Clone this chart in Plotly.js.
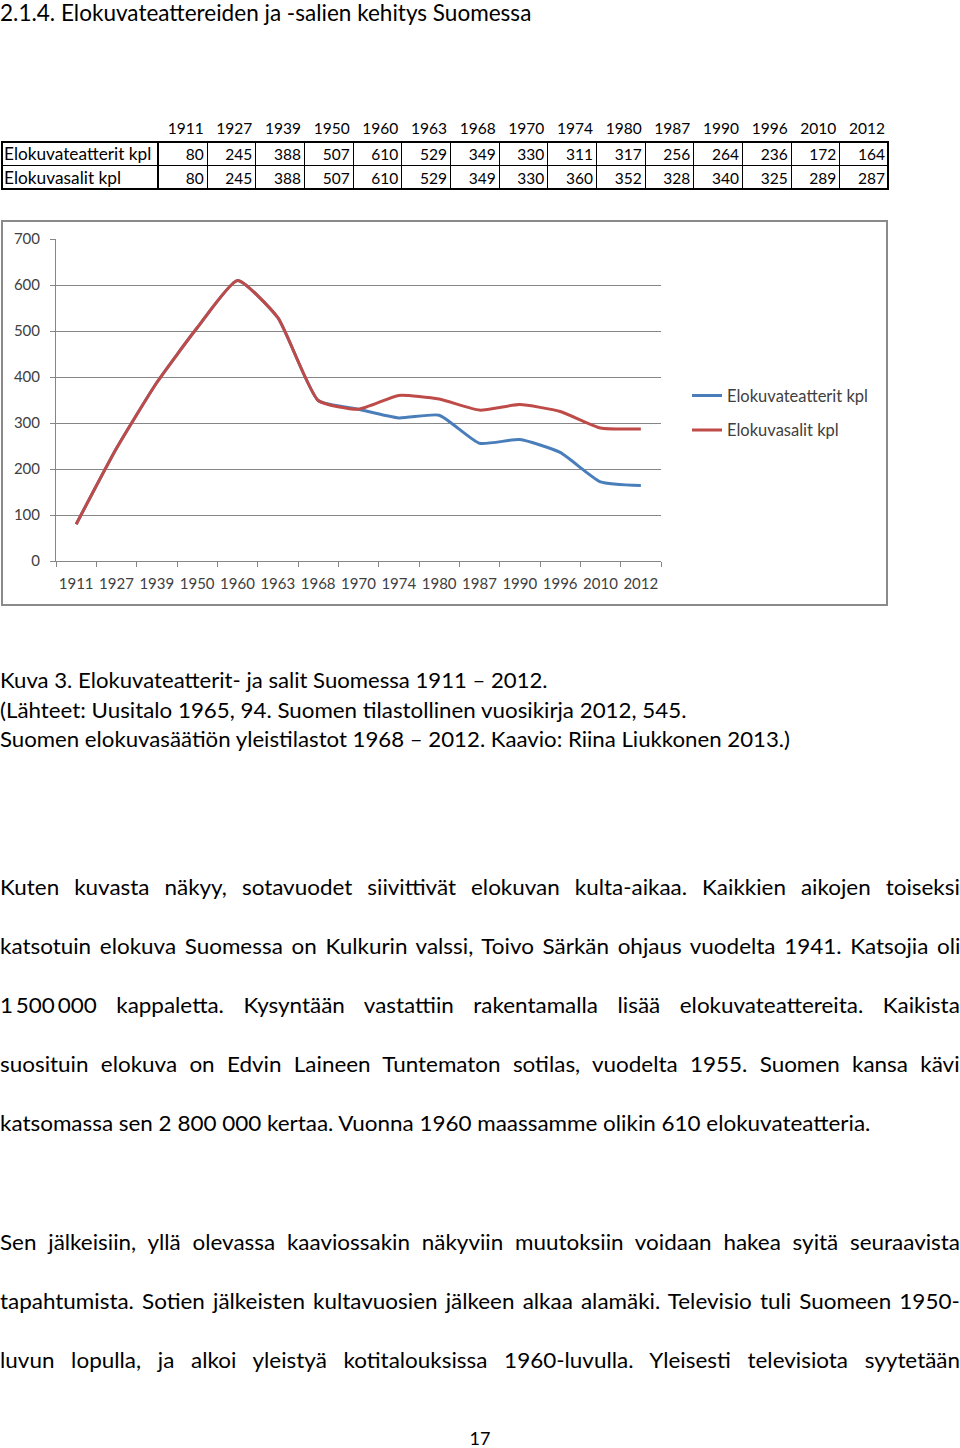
<!DOCTYPE html>
<html><head><meta charset="utf-8">
<script src="https://cdn.plot.ly/plotly-3.0.1.min.js"></script>
<style>
html,body{margin:0;padding:0;background:#fff}
body{width:960px;height:1448px;position:relative;overflow:hidden;font-family:Lato,"Open Sans",sans-serif;color:#000}
.ln{position:absolute;left:0;white-space:nowrap;line-height:1;transform-origin:0 0}
.cell{position:absolute;box-sizing:border-box;font-size:15.5px;line-height:24px;white-space:nowrap;overflow:visible}
.fitspan{display:inline-block;transform-origin:0 50%;white-space:nowrap}
#chart{position:absolute;left:1px;top:220px;width:887px;height:386px;box-sizing:border-box;border:2px solid #8a8a8a}
</style></head><body>
<div id="text"></div>
<div id="table"></div>
<div id="chart"><div id="plot"></div></div>
<script>
// ---- data ----
var years = ["1911","1927","1939","1950","1960","1963","1968","1970","1974","1980","1987","1990","1996","2010","2012"];
var rowLabels = ["Elokuvateatterit kpl","Elokuvasalit kpl"];
var theatres = [80,245,388,507,610,529,349,330,311,317,256,264,236,172,164];
var halls = [80,245,388,507,610,529,349,330,360,352,328,340,325,289,287];
var yTicks = [0,100,200,300,400,500,600,700];

// ---- text lines ----
var lines = [
 {t:"2.1.4. Elokuvateattereiden ja -salien kehitys Suomessa", b:21, f:23, mode:"fit", w:531, g:"title"},
 {t:"Kuva 3. Elokuvateatterit- ja salit Suomessa 1911 \u2013 2012.", b:688, f:21, mode:"fit", w:548, g:"c1"},
 {t:"(L\u00e4hteet: Uusitalo 1965, 94. Suomen tilastollinen vuosikirja 2012, 545.", b:717.5, f:21, mode:"fit", w:686, g:"c2"},
 {t:"Suomen elokuvas\u00e4\u00e4ti\u00f6n yleistilastot 1968 \u2013 2012. Kaavio: Riina Liukkonen 2013.)", b:747, f:21, mode:"fit", w:790, g:"c3"},
 {t:"Kuten kuvasta n\u00e4kyy, sotavuodet siivittiv\u00e4t elokuvan kulta-aikaa. Kaikkien aikojen toiseksi", b:895, f:20.5, mode:"just", w:960, g:"body"},
 {t:"katsotuin elokuva Suomessa on Kulkurin valssi, Toivo S\u00e4rk\u00e4n ohjaus vuodelta 1941. Katsojia oli", b:954, f:20.5, mode:"just", w:960, g:"body"},
 {t:"1\u2009500\u2009000 kappaletta. Kysynt\u00e4\u00e4n vastattiin rakentamalla lis\u00e4\u00e4 elokuvateattereita. Kaikista", b:1013, f:20.5, mode:"just", w:960, g:"body"},
 {t:"suosituin elokuva on Edvin Laineen Tuntematon sotilas, vuodelta 1955. Suomen kansa k\u00e4vi", b:1072, f:20.5, mode:"just", w:960, g:"body"},
 {t:"katsomassa sen 2 800 000 kertaa. Vuonna 1960 maassamme olikin 610 elokuvateatteria.", b:1131, f:20.5, mode:"fit", w:870, g:"body"},
 {t:"Sen j\u00e4lkeisiin, yll\u00e4 olevassa kaaviossakin n\u00e4kyviin muutoksiin voidaan hakea syit\u00e4 seuraavista", b:1250, f:20.5, mode:"just", w:960, g:"body"},
 {t:"tapahtumista. Sotien j\u00e4lkeisten kultavuosien j\u00e4lkeen alkaa alam\u00e4ki. Televisio tuli Suomeen 1950-", b:1309, f:20.5, mode:"just", w:960, g:"body"},
 {t:"luvun lopulla, ja alkoi yleisty\u00e4 kotitalouksissa 1960-luvulla. Yleisesti televisiota syytet\u00e4\u00e4n", b:1368, f:20.5, mode:"just", w:960, g:"body"}
];

var textDiv = document.getElementById('text');
var els = lines.map(function(L){
  var d = document.createElement('div');
  d.className = 'ln';
  d.style.fontSize = L.f + 'px';
  d.style.top = (L.b - 0.887*L.f) + 'px';
  d.textContent = L.t;
  textDiv.appendChild(d);
  return d;
});
// page number
var pn = document.createElement('div');
pn.className = 'ln'; pn.style.fontSize = '18px'; pn.style.top = (1445 - 0.887*18) + 'px';
pn.style.left = '0px'; pn.style.width = '960px'; pn.style.textAlign = 'center'; pn.textContent = '17';
textDiv.appendChild(pn);

var fitSpans = [];
function layoutText(){
  els.forEach(function(el){ el.style.wordSpacing = '0px'; el.style.transform = 'none'; });
  var groupScale = {};
  lines.forEach(function(L,i){
    if (L.mode === 'fit') {
      var w = els[i].offsetWidth;
      (groupScale[L.g] = groupScale[L.g] || []).push(L.w / w);
    }
  });
  lines.forEach(function(L,i){
    var arr = groupScale[L.g] || [1];
    var s = arr.reduce(function(a,b){return a+b;},0)/arr.length;
    var el = els[i];
    var nat = el.offsetWidth;
    if (L.mode === 'fit') {
      s = L.w / nat;
    } else {
      var n = (L.t.match(/ /g) || []).length;
      var target = L.w / s;
      el.style.wordSpacing = ((target - nat) / n) + 'px';
    }
    el.style.transform = 'scaleX(' + s + ')';
  });
  fitSpans.forEach(function(o){
    o.el.style.transform = 'none';
    var w = o.el.offsetWidth;
    o.el.style.transform = 'scaleX(' + (o.w / w) + ')';
  });
}

// ---- table ----
var tbl = document.getElementById('table');
var x0 = 158, xEnd = 888, colW = (xEnd - x0) / years.length;
var rowTop = 141, rowH = 24;
function addCell(left, top, w, h, txt, align, borders, fitW){
  var c = document.createElement('div');
  c.className = 'cell';
  c.style.left = left + 'px'; c.style.top = top + 'px';
  c.style.width = w + 'px'; c.style.height = h + 'px';
  c.style.textAlign = align;
  c.style.padding = align === 'right' ? '0 3px 0 0' : '0 0 0 2px';
  if (borders) c.style.border = '1px solid #000';
  if (fitW) {
    var sp = document.createElement('span');
    sp.className = 'fitspan';
    sp.style.fontSize = '17px';
    sp.textContent = txt;
    c.appendChild(sp);
    fitSpans.push({el: sp, w: fitW});
  } else {
    c.textContent = txt;
  }
  tbl.appendChild(c);
}
years.forEach(function(y,k){
  addCell(x0 + k*colW, rowTop - 25, colW, 24, y, 'right', false);
});
var rows = [theatres, halls];
var labelWidths = [147, 117];
rows.forEach(function(vals, r){
  addCell(1, rowTop + r*rowH, x0, rowH + 1, rowLabels[r], 'left', true, labelWidths[r]);
  vals.forEach(function(v,k){
    addCell(x0 + k*colW, rowTop + r*rowH, colW + 1, rowH + 1, String(v), 'right', true);
  });
});
var outer = document.createElement('div');
outer.style.cssText = 'position:absolute;box-sizing:border-box;border:2px solid #000;left:1px;top:' + rowTop + 'px;width:' + xEnd + 'px;height:' + (2*rowH + 1) + 'px';
tbl.appendChild(outer);
var outer2 = document.createElement('div');
outer2.style.cssText = 'position:absolute;box-sizing:border-box;border-left:2px solid #000;left:' + (x0-1) + 'px;top:' + rowTop + 'px;width:2px;height:' + (2*rowH + 1) + 'px';
tbl.appendChild(outer2);

// ---- chart ----
var gray = '#868686';
var traces = [
  {x: years, y: theatres, name: rowLabels[0], type: 'scatter', mode: 'lines',
   line: {color: '#4a7ebb', width: 3, shape: 'spline', smoothing: 0.5}, legendgroup: 'a'},
  {x: years, y: halls, name: rowLabels[1], type: 'scatter', mode: 'lines',
   line: {color: '#be4b48', width: 3, shape: 'spline', smoothing: 0.5}, legendgroup: 'b'}
];
var layout = {
  width: 883, height: 382,
  margin: {l: 53, r: 225, t: 17, b: 43},
  paper_bgcolor: '#fff', plot_bgcolor: '#fff',
  font: {family: 'Lato, "Open Sans", sans-serif', size: 15, color: '#404040'},
  showlegend: true,
  legend: {x: 1.043, xanchor: 'left', y: 0.46, yanchor: 'middle', tracegroupgap: 10,
           font: {size: 16.5, color: '#404040'}, bgcolor: 'rgba(0,0,0,0)'},
  xaxis: {type: 'category', categoryarray: years, range: [-0.5, years.length - 0.5],
          tickson: 'boundaries', ticks: 'outside',
          ticklen: 5, tickcolor: gray, showline: true, linecolor: gray, linewidth: 1,
          showgrid: false, zeroline: false, tickangle: 0, fixedrange: true, ticklabelstandoff: 9,
          tickfont: {size: 15, color: '#404040'}},
  yaxis: {range: [0, 700], tickvals: yTicks, showgrid: true, gridcolor: gray, gridwidth: 1,
          showline: true, linecolor: gray, linewidth: 1, ticks: 'outside', ticklen: 5,
          tickcolor: gray, zeroline: false, ticklabelstandoff: 7, fixedrange: true,
          tickfont: {size: 15, color: '#404040'}}
};
Plotly.newPlot('plot', traces, layout, {staticPlot: true, displayModeBar: false});

layoutText();
if (document.fonts && document.fonts.ready) { document.fonts.ready.then(layoutText); }
</script>
</body></html>
